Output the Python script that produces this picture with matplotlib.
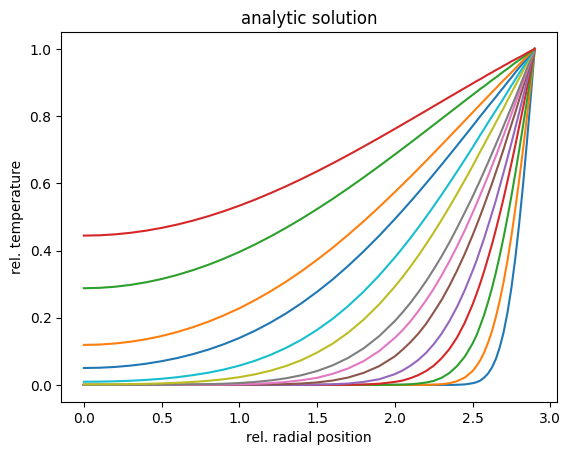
import matplotlib
matplotlib.use("Agg")
import matplotlib.pyplot as plt

# relative radial position (shared sample positions)
x = [0.0, 0.1, 0.2, 0.3, 0.4, 0.5, 0.6, 0.7, 0.8, 0.9,
     1.0, 1.1, 1.2, 1.3, 1.4, 1.5, 1.6, 1.7, 1.8, 1.9, 2.0,
     2.05, 2.1, 2.15, 2.2, 2.25, 2.3, 2.35, 2.4, 2.45, 2.5,
     2.525, 2.55, 2.575, 2.6, 2.625, 2.65, 2.675, 2.7, 2.725, 2.75,
     2.775, 2.8, 2.825, 2.85, 2.875, 2.9]

# relative temperature profiles, earliest time first
t01 = [0, 0, 0, 0, 0, 0, 0, 0, 0, 0,
       0, 0, 0, 0, 0, 0, 0, 0, 0, 0, 0,
       0, 0, 0, 0, 0, 0, 0, 0.0004, 0.0015, 0.005,
       0.008, 0.013, 0.022, 0.034, 0.052, 0.077, 0.112, 0.157, 0.216, 0.289,
       0.377, 0.480, 0.596, 0.724, 0.860, 1.0]
t02 = [0, 0, 0, 0, 0, 0, 0, 0, 0, 0,
       0, 0, 0, 0, 0, 0, 0, 0, 0, 0, 0,
       0, 0, 0.0001, 0.0003, 0.0008, 0.002, 0.005, 0.011, 0.022, 0.041,
       0.056, 0.074, 0.097, 0.126, 0.160, 0.202, 0.251, 0.307, 0.371, 0.443,
       0.524, 0.610, 0.701, 0.798, 0.899, 1.0]
t03 = [0, 0, 0, 0, 0, 0, 0, 0, 0, 0,
       0, 0, 0, 0, 0, 0, 0, 0, 0, 0.0001, 0.0006,
       0.001, 0.002, 0.004, 0.007, 0.012, 0.021, 0.035, 0.056, 0.084, 0.123,
       0.147, 0.177, 0.209, 0.247, 0.288, 0.334, 0.385, 0.440, 0.499, 0.562,
       0.629, 0.699, 0.772, 0.846, 0.923, 1.0]
t04 = [0, 0, 0, 0, 0, 0, 0, 0, 0, 0,
       0, 0, 0, 0, 0, 0, 0.0001, 0.0004, 0.0013, 0.0035, 0.009,
       0.013, 0.020, 0.029, 0.041, 0.057, 0.079, 0.106, 0.141, 0.185, 0.239,
       0.270, 0.303, 0.339, 0.378, 0.418, 0.462, 0.508, 0.556, 0.607, 0.659,
       0.713, 0.769, 0.825, 0.883, 0.941, 1.0]
t05 = [0, 0, 0, 0, 0, 0, 0, 0, 0, 0,
       0, 0, 0, 0.0001, 0.0003, 0.0008, 0.002, 0.0042, 0.009, 0.017, 0.032,
       0.043, 0.057, 0.074, 0.095, 0.121, 0.152, 0.189, 0.232, 0.282, 0.339,
       0.369, 0.403, 0.437, 0.474, 0.511, 0.549, 0.591, 0.633, 0.676, 0.720,
       0.765, 0.811, 0.858, 0.905, 0.952, 1.0]
t06 = [0, 0, 0, 0, 0, 0, 0, 0, 0, 0.0001,
       0.0003, 0.0006, 0.0012, 0.0023, 0.0043, 0.0075, 0.013, 0.022, 0.036, 0.056, 0.085,
       0.105, 0.127, 0.152, 0.181, 0.216, 0.252, 0.294, 0.340, 0.390, 0.445,
       0.474, 0.504, 0.535, 0.567, 0.599, 0.633, 0.667, 0.702, 0.739, 0.775,
       0.811, 0.849, 0.886, 0.924, 0.962, 1.0]
t07 = [0, 0, 0, 0, 0, 0.0001, 0.0001, 0.0003, 0.0005, 0.001,
       0.0019, 0.0032, 0.0053, 0.0087, 0.014, 0.021, 0.033, 0.049, 0.071, 0.101, 0.140,
       0.163, 0.189, 0.219, 0.251, 0.286, 0.325, 0.367, 0.412, 0.460, 0.512,
       0.538, 0.566, 0.594, 0.622, 0.652, 0.681, 0.712, 0.743, 0.774, 0.806,
       0.838, 0.870, 0.902, 0.935, 0.967, 1.0]
t08 = [0, 0.0001, 0.0001, 0.0002, 0.0003, 0.0005, 0.0009, 0.0014, 0.0023, 0.0036,
       0.0056, 0.0088, 0.0133, 0.0197, 0.0289, 0.0413, 0.0582, 0.0804, 0.109, 0.1454, 0.190,
       0.216, 0.244, 0.275, 0.308, 0.344, 0.382, 0.423, 0.467, 0.513, 0.560,
       0.585, 0.610, 0.636, 0.662, 0.689, 0.716, 0.743, 0.771, 0.799, 0.827,
       0.855, 0.884, 0.913, 0.942, 0.971, 1.0]
t09 = [0.0015, 0.0016, 0.0019, 0.0024, 0.0033, 0.0045, 0.0063, 0.0088, 0.0122, 0.0169,
       0.0231, 0.0314, 0.0423, 0.0562, 0.0738, 0.0963, 0.1227, 0.1555, 0.1945, 0.2400, 0.2925,
       0.3212, 0.3517, 0.3839, 0.4179, 0.4533, 0.4904, 0.5288, 0.5686, 0.6094, 0.6512,
       0.673, 0.695, 0.716, 0.738, 0.759, 0.781, 0.803, 0.824, 0.847, 0.869,
       0.891, 0.913, 0.935, 0.957, 0.978, 1.0]
t10 = [0.0095, 0.0098, 0.0108, 0.0124, 0.0149, 0.0183, 0.0229, 0.0290, 0.0363, 0.0457,
       0.0574, 0.0718, 0.0892, 0.1101, 0.1346, 0.1637, 0.1966, 0.2348, 0.2780, 0.3261, 0.3792,
       0.4075, 0.4369, 0.4675, 0.4993, 0.5318, 0.5653, 0.5997, 0.6348, 0.6704, 0.7065,
       0.725, 0.744, 0.762, 0.781, 0.799, 0.817, 0.835, 0.853, 0.872, 0.891,
       0.909, 0.928, 0.946, 0.964, 0.982, 1.0]
t15 = [0.0504, 0.0511, 0.0535, 0.0574, 0.0631, 0.0706, 0.0799, 0.0914, 0.1050, 0.1211,
       0.1396, 0.1611, 0.1854, 0.2127, 0.2432, 0.2771, 0.3138, 0.3542, 0.3977, 0.4441, 0.4935,
       0.5191, 0.5452, 0.5719, 0.5992, 0.6269, 0.6550, 0.6835, 0.7122, 0.7412, 0.7702,
       0.785, 0.800, 0.814, 0.829, 0.843, 0.857, 0.872, 0.886, 0.901, 0.915,
       0.930, 0.944, 0.958, 0.972, 0.986, 1.0]
t20 = [0.1191, 0.1201, 0.1233, 0.1285, 0.1359, 0.1455, 0.1574, 0.1715, 0.1880, 0.2069,
       0.2281, 0.2520, 0.2783, 0.3072, 0.3385, 0.3723, 0.4082, 0.4467, 0.4872, 0.5296, 0.5739,
       0.5964, 0.6193, 0.6426, 0.6661, 0.6900, 0.7139, 0.7380, 0.7622, 0.7865, 0.8106,
       0.823, 0.835, 0.847, 0.859, 0.871, 0.883, 0.895, 0.907, 0.918, 0.930,
       0.942, 0.954, 0.966, 0.977, 0.989, 1.0]
t30 = [0.2878, 0.2889, 0.2922, 0.2977, 0.3054, 0.3152, 0.3272, 0.3413, 0.3574, 0.3756,
       0.3957, 0.4178, 0.4417, 0.4673, 0.4946, 0.5234, 0.5535, 0.5851, 0.6177, 0.6513, 0.6857,
       0.7031, 0.7206, 0.7383, 0.7560, 0.7739, 0.7918, 0.8097, 0.8275, 0.8454, 0.8631,
       0.872, 0.881, 0.889, 0.898, 0.907, 0.915, 0.924, 0.933, 0.941, 0.950,
       0.959, 0.967, 0.975, 0.984, 0.992, 1.0]
t40 = [0.4444, 0.4453, 0.4481, 0.4527, 0.4591, 0.4673, 0.4772, 0.4888, 0.5021, 0.5170,
       0.5334, 0.5513, 0.5706, 0.5911, 0.6128, 0.6357, 0.6594, 0.6841, 0.7095, 0.7355, 0.7620,
       0.7754, 0.7888, 0.8023, 0.8158, 0.8295, 0.8430, 0.8566, 0.8701, 0.8836, 0.8970,
       0.904, 0.910, 0.917, 0.924, 0.930, 0.937, 0.943, 0.950, 0.956, 0.963,
       0.969, 0.975, 0.981, 0.988, 0.994, 1.0]

profiles = [t01, t02, t03, t04, t05, t06, t07, t08, t09, t10, t15, t20, t30, t40]

fig, ax = plt.subplots(figsize=(6.4, 4.8), dpi=100)
for prof in profiles:
    ax.plot(x, prof)
ax.set_title("analytic solution")
ax.set_xlabel("rel. radial position")
ax.set_ylabel("rel. temperature")
fig.savefig("out.png", dpi=100, bbox_inches="tight")
